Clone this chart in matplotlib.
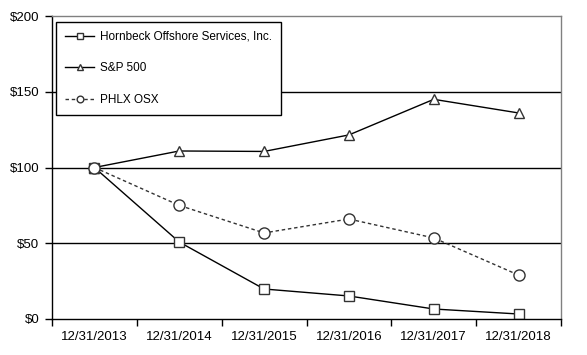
import numpy as np
import matplotlib.pyplot as plt

plt.rcParams['font.family'] = ['Liberation Sans', 'DejaVu Sans']

fechas = ['12/31/2013', '12/31/2014', '12/31/2015', '12/31/2016', '12/31/2017', '12/31/2018']
hornbeck = [100, 50.8, 19.8, 15.2, 6.6, 3.3]
sp500 = [100, 110.9, 110.6, 121.5, 145.0, 136.0]
phlx = [100, 75.0, 56.8, 66.0, 53.5, 29.0]
yticks = [0, 50, 100, 150, 200]
ylabels = ['$0', '$50', '$100', '$150', '$200']

fig = plt.figure(figsize=(5.87, 3.55), dpi=100)
ax = fig.add_axes([52/587, 36/355, 509/587, 303/355])

x = np.arange(len(fechas))
ax.plot(x, hornbeck, color='black', lw=1, marker='s', ms=7, mfc='white', mec='#333333', mew=1,
        label='Hornbeck Offshore Services, Inc.')
ax.plot(x, sp500, color='black', lw=1, marker='^', ms=7, mfc='white', mec='#333333', mew=1,
        label='S&P 500')
ax.plot(x, phlx, color='#333333', lw=1, ls=(0, (2.5, 2)), marker='o', ms=8, mfc='white', mec='#333333',
        mew=1, label='PHLX OSX')

ax.set_xlim(-0.5, len(fechas) - 0.5)
ax.set_ylim(0, 200)
ax.set_yticks(yticks)
ax.set_yticklabels(ylabels, fontsize=9.5)
ax.set_xticks(x)
ax.set_xticklabels(fechas, fontsize=9.5)
ax.tick_params(axis='x', length=0, pad=9)
ax.set_xticks(np.arange(len(fechas) + 1) - 0.5, minor=True)
ax.tick_params(axis='x', which='minor', length=5, width=1, direction='out')
ax.tick_params(axis='y', length=5, width=1, direction='out', pad=4)

for v in [50, 100, 150]:
    ax.axhline(v, color='black', lw=1, zorder=0)

ax.spines['top'].set_color('#808080')
ax.spines['right'].set_color('#808080')
ax.spines['left'].set_color('black')
ax.spines['bottom'].set_color('black')
for s in ax.spines.values():
    s.set_linewidth(1)

leg = ax.legend(loc='upper left', bbox_to_anchor=(4/509, 1 - 6/303), borderaxespad=0, fontsize=8.5,
                frameon=True, fancybox=False, edgecolor='black', framealpha=1, borderpad=0.75,
                labelspacing=1.65, handlelength=2.5, handletextpad=0.45, markerscale=0.6)
leg.get_frame().set_linewidth(1)

fig.savefig('out.png', dpi=100)
